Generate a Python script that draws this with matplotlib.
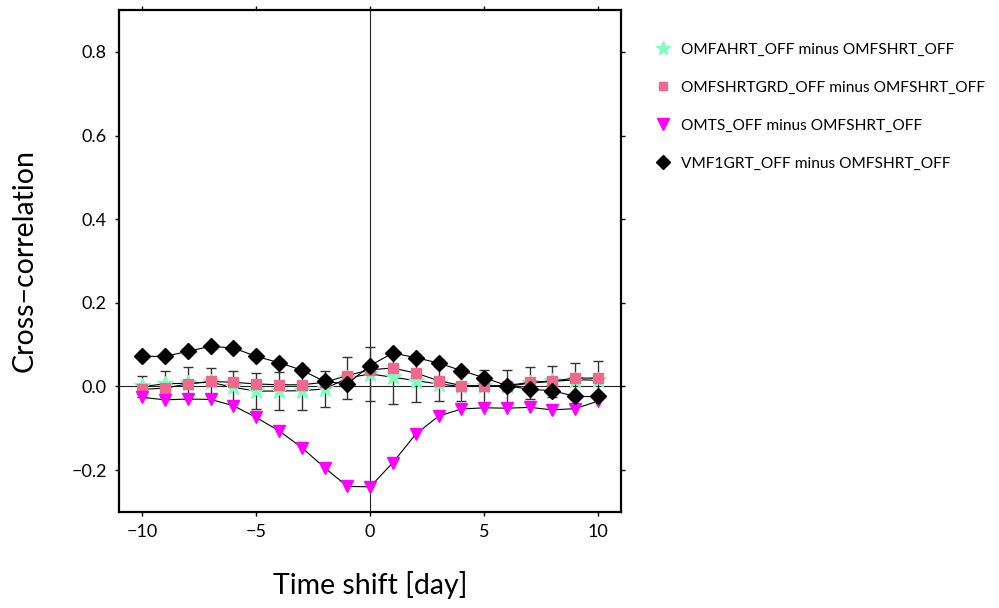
import numpy as np
import matplotlib.pyplot as plt

plt.rcParams['font.family'] = ['Lato', 'DejaVu Sans']

shift = np.arange(-10, 11)

# OMFAHRT_OFF minus OMFSHRT_OFF (with error bars)
ahrt = [0.000, 0.006, 0.008, 0.010, -0.002, -0.011, -0.011, -0.010, -0.006, 0.020, 0.030,
        0.022, 0.014, 0.006, 0.000, 0.000, 0.000, 0.008, 0.012, 0.016, 0.015]
ahrt_err = [0.026, 0.032, 0.038, 0.034, 0.040, 0.044, 0.045, 0.046, 0.042, 0.051, 0.064,
            0.063, 0.052, 0.040, 0.035, 0.039, 0.040, 0.038, 0.037, 0.041, 0.046]
# OMFSHRTGRD_OFF minus OMFSHRT_OFF
shrtgrd = [-0.007, -0.004, 0.006, 0.012, 0.010, 0.006, 0.004, 0.004, 0.010, 0.026, 0.040,
           0.044, 0.032, 0.014, 0.002, 0.002, 0.002, 0.010, 0.013, 0.020, 0.020]
# OMTS_OFF minus OMFSHRT_OFF
omts = [-0.026, -0.032, -0.030, -0.031, -0.046, -0.074, -0.106, -0.146, -0.194, -0.239, -0.240,
        -0.182, -0.114, -0.071, -0.054, -0.051, -0.052, -0.050, -0.056, -0.053, -0.035]
# VMF1GRT_OFF minus OMFSHRT_OFF
vmf1 = [0.072, 0.072, 0.084, 0.096, 0.092, 0.072, 0.057, 0.039, 0.012, 0.006, 0.050,
        0.080, 0.069, 0.056, 0.038, 0.021, 0.002, -0.007, -0.010, -0.024, -0.024]

labels = ["OMFAHRT_OFF minus OMFSHRT_OFF",
          "OMFSHRTGRD_OFF minus OMFSHRT_OFF",
          "OMTS_OFF minus OMFSHRT_OFF",
          "VMF1GRT_OFF minus OMFSHRT_OFF"]

fig = plt.figure(figsize=(9.99, 6.08), dpi=100)
ax = fig.add_axes([0.1195, 0.158, 0.502, 0.8255])

ax.axhline(0, color='#222222', lw=0.8, zorder=1)
ax.axvline(0, color='#222222', lw=0.8, zorder=1)

ax.errorbar(shift, ahrt, yerr=ahrt_err, fmt='none', ecolor='#333333', elinewidth=1.0,
            capsize=3.5, capthick=1.0, zorder=2)
ax.plot(shift, ahrt, color='black', lw=0.8, zorder=3)
ax.plot(shift, ahrt, '*', color='#7FFFBF', ms=12, mec='#7FFFBF', zorder=3, label=labels[0])
ax.plot(shift, shrtgrd, color='black', lw=0.8, zorder=4)
ax.plot(shift, shrtgrd, 's', color='#F06890', ms=7, zorder=4, label=labels[1])
ax.plot(shift, omts, color='black', lw=0.8, zorder=5)
ax.plot(shift, omts, 'v', color='#FF00FF', ms=9, zorder=5, label=labels[2])
ax.plot(shift, vmf1, color='black', lw=0.8, zorder=6)
ax.plot(shift, vmf1, 'D', color='black', ms=8, zorder=6, label=labels[3])

ax.set_xlim(-11, 11)
ax.set_ylim(-0.3, 0.9)
ax.set_xticks([-10, -5, 0, 5, 10])
ax.set_xticklabels(['\u221210', '\u22125', '0', '5', '10'])
ax.set_yticks([-0.2, 0.0, 0.2, 0.4, 0.6, 0.8])
ax.set_yticklabels(['\u22120.2', '0.0', '0.2', '0.4', '0.6', '0.8'])
ax.tick_params(direction='out', length=3, width=1, labelsize=13, pad=6,
               top=True, right=True)
for s in ax.spines.values():
    s.set_linewidth(1.6)

ax.set_xlabel('Time shift [day]', fontsize=20.5, labelpad=22)
ax.set_ylabel('Cross\u2212correlation', fontsize=20.5, labelpad=24)

fig.legend(loc='upper left', bbox_to_anchor=(0.640, 0.953), frameon=False,
           fontsize=11.2, labelspacing=1.55, handletextpad=0.6, markerscale=0.9,
           handlelength=1.2)

fig.savefig('out.png', dpi=100)
